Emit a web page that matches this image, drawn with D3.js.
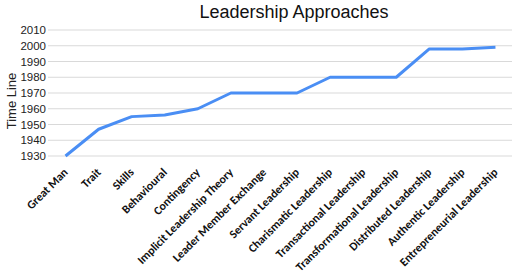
<!DOCTYPE html>
<html>
<head>
<meta charset="utf-8">
<script src="https://cdn.jsdelivr.net/npm/d3@7"></script>
<style>
  body { margin: 0; background: #fff; }
  svg { display: block; }
</style>
</head>
<body>
<svg id="drawing_region"></svg>
<script>
const categories = ['Great Man', 'Trait', 'Skills', 'Behavioural', 'Contingency',
    'Implicit Leadership Theory', 'Leader Member Exchange', 'Servant Leadership',
    'Charismatic Leadership', 'Transactional Leadership', 'Transformational Leadership',
    'Distributed Leadership', 'Authentic Leadership', 'Entrepreneurial Leadership'];
const years = [1930, 1947, 1955, 1956, 1960, 1970, 1970, 1970, 1980, 1980, 1980, 1998, 1998, 1999];
const yTicks = [1930, 1940, 1950, 1960, 1970, 1980, 1990, 2000, 2010];

const width = 514, height = 274;
const margin = { top: 30, right: 2, bottom: 118, left: 49 };

const svg = d3.select('#drawing_region')
    .attr('width', width)
    .attr('height', height);

const xscale = d3.scaleBand()
    .domain(categories)
    .range([margin.left, width - margin.right]);
const yscale = d3.scaleLinear()
    .domain([1930, 2010])
    .range([height - margin.bottom, margin.top]);

// gridlines
svg.append('g')
    .selectAll('line')
    .data(yTicks)
    .join('line')
    .attr('x1', margin.left - 1)
    .attr('x2', width - margin.right)
    .attr('y1', d => yscale(d))
    .attr('y2', d => yscale(d))
    .attr('stroke', '#d9d9d9')
    .attr('stroke-width', 1);

// y axis labels
const yaxis = d3.axisLeft(yscale).tickValues(yTicks).tickFormat(d3.format('d')).tickSize(0).tickPadding(3);
svg.append('g')
    .attr('transform', `translate(${margin.left}, 0)`)
    .call(yaxis)
    .call(g => g.select('.domain').remove())
    .selectAll('text')
    .attr('font-family', 'Liberation Sans, Arial, sans-serif')
    .attr('font-size', '11.5px')
    .attr('fill', '#222');

// x axis labels
const xaxis = d3.axisBottom(xscale).tickSize(0).tickPadding(0);
svg.append('g')
    .attr('transform', `translate(0, ${height - margin.bottom})`)
    .call(xaxis)
    .call(g => g.select('.domain').remove())
    .selectAll('text')
    .attr('font-family', 'Carlito, Open Sans, sans-serif')
    .attr('font-weight', 'bold')
    .attr('font-size', '11.8px')
    .attr('fill', '#111')
    .attr('text-anchor', 'end')
    .attr('dy', 0)
    .attr('transform', 'translate(3, 17) rotate(-45)');

// line
const line = d3.line()
    .x((d, i) => xscale(categories[i]) + xscale.bandwidth() / 2)
    .y(d => yscale(d));

svg.append('path')
    .attr('d', line(years))
    .attr('fill', 'none')
    .attr('stroke', '#4a8ef4')
    .attr('stroke-width', 3)
    .attr('stroke-linejoin', 'round');

// title
svg.append('text')
    .attr('x', 294)
    .attr('y', 18)
    .attr('text-anchor', 'middle')
    .attr('font-family', 'Liberation Sans, Arial, sans-serif')
    .attr('font-size', '18px')
    .attr('fill', '#111')
    .text('Leadership Approaches');

// y axis title
svg.append('text')
    .attr('transform', `translate(16, ${(yscale(1930) + yscale(2010)) / 2 + 8}) rotate(-90)`)
    .attr('text-anchor', 'middle')
    .attr('font-family', 'Liberation Sans, Arial, sans-serif')
    .attr('font-size', '13px')
    .attr('fill', '#222')
    .text('Time Line');
</script>
</body>
</html>
